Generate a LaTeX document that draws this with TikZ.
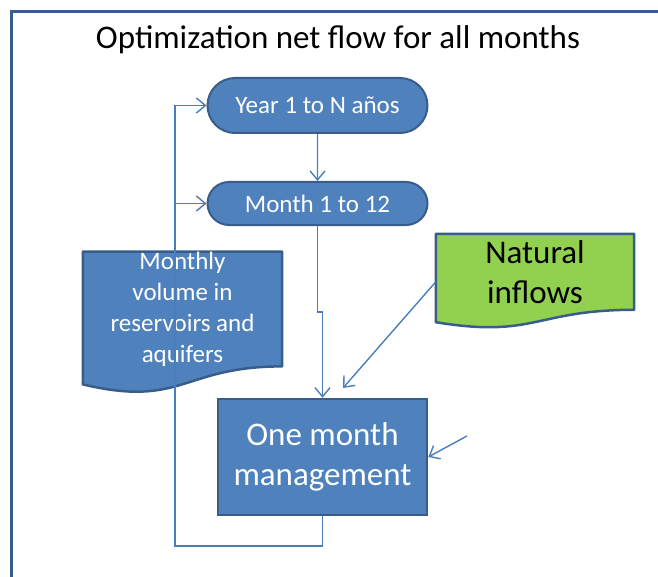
\documentclass[tikz,border=0pt]{standalone}
\usepackage{fontspec}
\setmainfont{Carlito}
\usetikzlibrary{shapes.misc,arrows.meta,backgrounds}
\definecolor{boxblue}{HTML}{4F81BD}
\definecolor{edgeblue}{HTML}{385D8A}
\definecolor{lineblue}{HTML}{4A7EBB}
\definecolor{inflowgreen}{HTML}{92D050}
\begin{document}
\begin{tikzpicture}[x=1bp,y=-1bp,
  loopbox/.style={rounded rectangle,draw=edgeblue,fill=boxblue,line width=2bp,inner sep=0pt,
    text=white,minimum width=220bp,font=\fontsize{25bp}{31bp}\selectfont},
  stepbox/.style={rectangle,draw=edgeblue,fill=boxblue,line width=2.5bp,inner sep=0pt,
    text=white,align=center,font=\fontsize{33bp}{40bp}\selectfont},
  docbox/.style={rectangle,inner sep=0pt,align=center},
  docline/.style={draw=edgeblue,line width=2.5bp,line join=round},
  flow/.style={draw=lineblue,line width=1.4bp,-{Straight Barb[length=9bp,width=15bp,line width=1.4bp]}}]
\useasboundingbox (0,0) rectangle (658,577);
\draw [edgeblue,line width=3.5bp] (680,11.5) -| (11.5,600);
\node (title) at (338,40) {\fontsize{33bp}{40bp}\selectfont Optimization net flow for all months};
\node [loopbox,minimum height=55bp] (year) at (317.5,105.5) {Year 1 to N años};
\node [loopbox,minimum height=43bp] (month) at (317.5,203.5) {Month 1 to 12};
\node [docbox,minimum width=199bp,minimum height=110bp,text=white,font=\fontsize{25bp}{31bp}\selectfont] (vol) at (182.5,309)
  {Monthly\\volume in\\reservoirs and\\aquifers};
\node [docbox,minimum width=198bp,minimum height=75.6bp,font=\fontsize{33bp}{40bp}\selectfont] (nat) at (535,271.8)
  {Natural\\inflows};
\node [stepbox,minimum width=209bp,minimum height=116bp] (mgmt) at (322.5,457) {One month\\management};
\begin{scope}[on background layer]
\draw [docline,fill=boxblue] (vol.north west) -- (vol.north east) -- (vol.south east)
  .. controls (vol.south) and ([yshift=-41.7bp]vol.south) .. ([yshift=-18bp]vol.south west) -- cycle;
\draw [docline,fill=inflowgreen] (nat.north west) -- (nat.north east) -- (nat.south east)
  .. controls (nat.south) and ([yshift=-28.7bp]nat.south) .. ([yshift=-12.4bp]nat.south west) -- cycle;
\end{scope}
\coordinate (loop) at (175,546);
\coordinate (natend) at (343,388);
\coordinate (extin) at (467,436);
\draw [flow] (year) -- (month);
\draw [flow] (month.south) -- ++(0,86) -| (mgmt.north);
\draw [flow] (mgmt.south) |- (loop) |- (year.west);
\draw [flow] (loop |- month.west) -- (month.west);
\draw [flow] ([yshift=-10bp]nat.west) -- (natend);
\draw [flow] (extin) -- (mgmt.east);
\end{tikzpicture}
\end{document}
